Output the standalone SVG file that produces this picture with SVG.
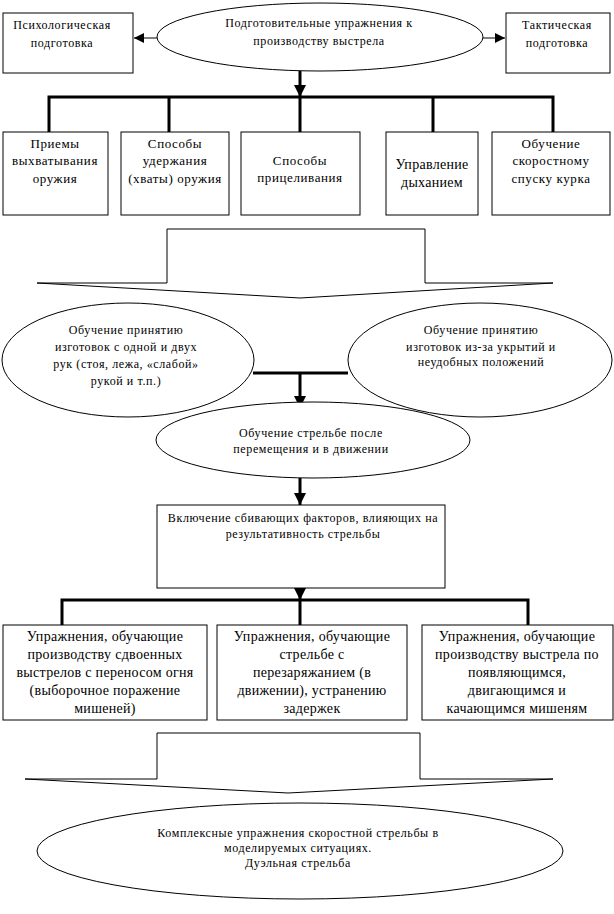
<svg xmlns="http://www.w3.org/2000/svg" width="614" height="914" viewBox="0 0 614 914">
<style>
.b{fill:#fff;stroke:#000;stroke-width:1}
.t{font-family:'Liberation Serif','Times New Roman',serif;fill:#000;text-anchor:middle}
.s12{font-size:12px;letter-spacing:0.6px}
.s13{font-size:13px;letter-spacing:0.6px}
.s14{font-size:14px;letter-spacing:0.3px}
.th{stroke:#000;stroke-width:3;fill:none}
.tn{stroke:#000;stroke-width:1;fill:none}
</style>
<defs>
<marker id="ah" viewBox="0 0 10 10" refX="10" refY="5" markerWidth="10" markerHeight="10" markerUnits="userSpaceOnUse" orient="auto"><path d="M0,0L10,5L0,10Z" fill="#000"/></marker>
<marker id="ahb" viewBox="0 0 10 10" refX="10" refY="5" markerWidth="14" markerHeight="12" markerUnits="userSpaceOnUse" orient="auto"><path d="M0,0L10,5L0,10Z" fill="#000"/></marker>
</defs>
<rect width="614" height="914" fill="#fff"/>
<g id="connectors">
<line class="tn" x1="157" y1="38" x2="134" y2="38" marker-end="url(#ah)"/>
<line class="tn" x1="483" y1="38" x2="505" y2="38" marker-end="url(#ah)"/>
<line class="th" x1="300" y1="71" x2="300" y2="97" marker-end="url(#ahb)"/>
<path class="th" d="M49,132V97H553V132M169,97V132M300,97V132M433,97V132"/>
<path class="th" d="M253,373H348"/>
<line class="th" x1="300" y1="373" x2="300" y2="408" marker-end="url(#ahb)"/>
<line class="th" x1="300" y1="478" x2="300" y2="505" marker-end="url(#ahb)"/>
<line class="th" x1="300" y1="588" x2="300" y2="600" marker-end="url(#ahb)"/>
<path class="th" d="M62,625V600H528V625M300,600V625"/>
</g>
<g id="n-top"><ellipse class="b" cx="320" cy="37" rx="163" ry="34"/>
<text class="t s12" x="319" y="27">Подготовительные упражнения к</text>
<text class="t s12" x="319" y="45">производству выстрела</text></g>
<g id="n-psy"><rect class="b" x="3" y="13" width="130" height="60"/>
<text class="t s12" x="62" y="29">Психологическая</text>
<text class="t s12" x="62" y="47">подготовка</text></g>
<g id="n-tac"><rect class="b" x="506" y="13" width="104" height="60"/>
<text class="t s12" x="557" y="29">Тактическая</text>
<text class="t s12" x="557" y="47">подготовка</text></g>
<g id="n-b1"><rect class="b" x="3" y="132" width="105" height="83"/>
<text class="t s13" x="55" y="148">Приемы</text>
<text class="t s13" x="55" y="165">выхватывания</text>
<text class="t s13" x="55" y="183">оружия</text></g>
<g id="n-b2"><rect class="b" x="121" y="132" width="108" height="83"/>
<text class="t s13" x="175" y="148">Способы</text>
<text class="t s13" x="175" y="165">удержания</text>
<text class="t s13" x="175" y="183">(хваты) оружия</text></g>
<g id="n-b3"><rect class="b" x="241" y="132" width="119" height="83"/>
<text class="t s13" x="300" y="165">Способы</text>
<text class="t s13" x="300" y="182">прицеливания</text></g>
<g id="n-b4"><rect class="b" x="386" y="132" width="92" height="83"/>
<text class="t s14" x="432" y="169">Управление</text>
<text class="t s14" x="432" y="187">дыханием</text></g>
<g id="n-b5"><rect class="b" x="492" y="132" width="118" height="83"/>
<text class="t s13" x="551" y="148">Обучение</text>
<text class="t s13" x="551" y="165">скоростному</text>
<text class="t s13" x="551" y="183">спуску курка</text></g>
<g id="arrow1"><path class="b" d="M37,283H167V229H425V283H553L300,298Z"/></g>
<g id="n-e1"><ellipse class="b" cx="128" cy="360" rx="126" ry="57"/>
<text class="t s12" x="126" y="334">Обучение принятию</text>
<text class="t s12" x="126" y="351">изготовок с одной и двух</text>
<text class="t s12" x="126" y="368">рук (стоя, лежа, «слабой»</text>
<text class="t s12" x="126" y="385">рукой и т.п.)</text></g>
<g id="n-e2"><ellipse class="b" cx="480" cy="360" rx="132" ry="57"/>
<text class="t s12" x="481" y="334">Обучение принятию</text>
<text class="t s12" x="481" y="351">изготовок из-за укрытий и</text>
<text class="t s12" x="481" y="366">неудобных положений</text></g>
<g id="n-e3"><ellipse class="b" cx="313" cy="440" rx="157" ry="38"/>
<text class="t s12" x="311" y="437">Обучение стрельбе после</text>
<text class="t s12" x="311" y="453">перемещения и в движении</text></g>
<g id="n-inc"><rect class="b" x="157" y="505" width="288" height="83"/>
<text class="t s12" x="303" y="522">Включение сбивающих факторов, влияющих на</text>
<text class="t s12" x="303" y="538">результативность стрельбы</text></g>
<g id="n-c1"><rect class="b" x="3" y="625" width="204" height="95"/>
<text class="t s14" x="105" y="641">Упражнения, обучающие</text>
<text class="t s14" x="105" y="659">производству сдвоенных</text>
<text class="t s14" x="105" y="677">выстрелов с переносом огня</text>
<text class="t s14" x="105" y="695">(выборочное поражение</text>
<text class="t s14" x="105" y="713">мишеней)</text></g>
<g id="n-c2"><rect class="b" x="217" y="625" width="190" height="95"/>
<text class="t s14" x="312" y="641">Упражнения, обучающие</text>
<text class="t s14" x="312" y="659">стрельбе с</text>
<text class="t s14" x="312" y="677">перезаряжанием (в</text>
<text class="t s14" x="312" y="695">движении), устранению</text>
<text class="t s14" x="312" y="713">задержек</text></g>
<g id="n-c3"><rect class="b" x="422" y="625" width="191" height="95"/>
<text class="t s14" x="517" y="641">Упражнения, обучающие</text>
<text class="t s14" x="517" y="659">производству выстрела по</text>
<text class="t s14" x="517" y="677">появляющимся,</text>
<text class="t s14" x="517" y="695">двигающимся и</text>
<text class="t s14" x="517" y="713">качающимся мишеням</text></g>
<g id="arrow2"><path class="b" d="M25,779H157V733H420V779H553L288,793Z"/></g>
<g id="n-fin"><ellipse class="b" cx="300" cy="851" rx="263" ry="48"/>
<text class="t s12" x="298" y="837">Комплексные упражнения скоростной стрельбы в</text>
<text class="t s12" x="298" y="852">моделируемых ситуациях.</text>
<text class="t s12" x="298" y="867">Дуэльная стрельба</text></g>
</svg>
